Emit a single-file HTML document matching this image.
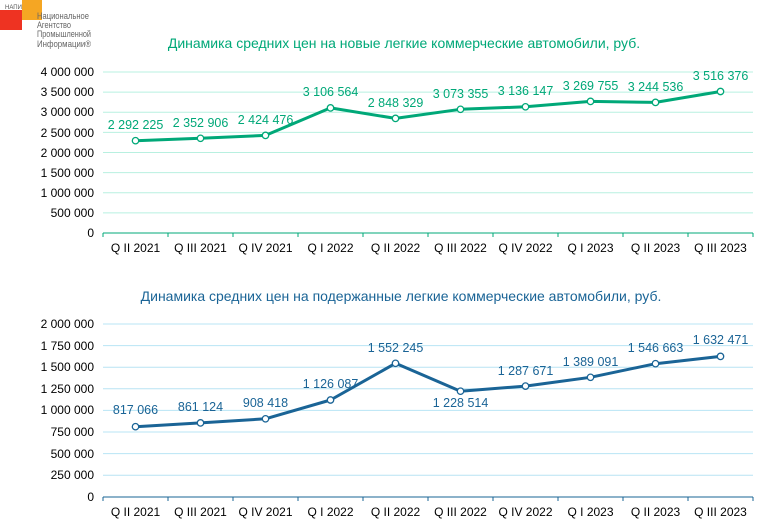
<!DOCTYPE html>
<html><head><meta charset="utf-8"><style>
html,body{margin:0;padding:0;background:#fff;}
svg{display:block;font-family:"Liberation Sans",Arial,sans-serif;}
</style></head><body>
<svg width="782" height="522" viewBox="0 0 782 522" xmlns="http://www.w3.org/2000/svg">
<!-- logo -->
<rect x="0" y="10" width="22" height="20" fill="#ee3322"/>
<rect x="22" y="0" width="20" height="20" fill="#f5a623"/>
<text x="5" y="9" font-size="6" fill="#555">НАПИ</text>
<text x="37" y="19" font-size="9" fill="#666" textLength="52" lengthAdjust="spacingAndGlyphs">Национальное</text>
<text x="37" y="28" font-size="9" fill="#666" textLength="34" lengthAdjust="spacingAndGlyphs">Агентство</text>
<text x="37" y="37" font-size="9" fill="#666" textLength="54" lengthAdjust="spacingAndGlyphs">Промышленной</text>
<text x="37" y="47" font-size="9" fill="#666" textLength="54" lengthAdjust="spacingAndGlyphs">Информации®</text>

<!-- TOP CHART -->
<text x="404" y="48" font-size="14" fill="#00a878" text-anchor="middle">Динамика средних цен на новые легкие коммерческие автомобили, руб.</text>
<g stroke="#b8f0e0" stroke-width="1">
<line x1="103" x2="753" y1="72" y2="72"/><line x1="103" x2="753" y1="92.1" y2="92.1"/><line x1="103" x2="753" y1="112.3" y2="112.3"/><line x1="103" x2="753" y1="132.4" y2="132.4"/><line x1="103" x2="753" y1="152.5" y2="152.5"/><line x1="103" x2="753" y1="172.6" y2="172.6"/><line x1="103" x2="753" y1="192.8" y2="192.8"/><line x1="103" x2="753" y1="212.9" y2="212.9"/>
</g>
<line x1="103" x2="753" y1="233" y2="233" stroke="#00a878" stroke-width="1"/>
<g stroke="#00a878"><line x1="103" x2="103" y1="233" y2="237"/><line x1="168" x2="168" y1="233" y2="237"/><line x1="233" x2="233" y1="233" y2="237"/><line x1="298" x2="298" y1="233" y2="237"/><line x1="363" x2="363" y1="233" y2="237"/><line x1="428" x2="428" y1="233" y2="237"/><line x1="493" x2="493" y1="233" y2="237"/><line x1="558" x2="558" y1="233" y2="237"/><line x1="623" x2="623" y1="233" y2="237"/><line x1="688" x2="688" y1="233" y2="237"/><line x1="753" x2="753" y1="233" y2="237"/></g>
<g font-size="12" fill="#000" text-anchor="end">
<text x="94" y="76">4 000 000</text><text x="94" y="96">3 500 000</text><text x="94" y="116">3 000 000</text><text x="94" y="137">2 500 000</text><text x="94" y="157">2 000 000</text><text x="94" y="177">1 500 000</text><text x="94" y="197">1 000 000</text><text x="94" y="217">500 000</text><text x="94" y="237">0</text>
</g>
<g font-size="12" fill="#000" text-anchor="middle">
<text x="135.5" y="252">Q II 2021</text><text x="200.5" y="252">Q III 2021</text><text x="265.5" y="252">Q IV 2021</text><text x="330.5" y="252">Q I 2022</text><text x="395.5" y="252">Q II 2022</text><text x="460.5" y="252">Q III 2022</text><text x="525.5" y="252">Q IV 2022</text><text x="590.5" y="252">Q I 2023</text><text x="655.5" y="252">Q II 2023</text><text x="720.5" y="252">Q III 2023</text>
</g>
<polyline fill="none" stroke="#00a878" stroke-width="3" stroke-linejoin="round" points="135.5,140.7 200.5,138.3 265.5,135.4 330.5,107.9 395.5,118.4 460.5,109.3 525.5,106.8 590.5,101.4 655.5,102.4 720.5,91.5"/>
<g fill="#fff" stroke="#00a878" stroke-width="1.3">
<circle cx="135.5" cy="140.7" r="3.2"/><circle cx="200.5" cy="138.3" r="3.2"/><circle cx="265.5" cy="135.4" r="3.2"/><circle cx="330.5" cy="107.9" r="3.2"/><circle cx="395.5" cy="118.4" r="3.2"/><circle cx="460.5" cy="109.3" r="3.2"/><circle cx="525.5" cy="106.8" r="3.2"/><circle cx="590.5" cy="101.4" r="3.2"/><circle cx="655.5" cy="102.4" r="3.2"/><circle cx="720.5" cy="91.5" r="3.2"/>
</g>
<g font-size="12.5" fill="#00a878" text-anchor="middle">
<text x="135.5" y="129">2 292 225</text><text x="200.5" y="127">2 352 906</text><text x="265.5" y="124">2 424 476</text><text x="330.5" y="96">3 106 564</text><text x="395.5" y="107">2 848 329</text><text x="460.5" y="98">3 073 355</text><text x="525.5" y="95">3 136 147</text><text x="590.5" y="90">3 269 755</text><text x="655.5" y="91">3 244 536</text><text x="720.5" y="80">3 516 376</text>
</g>

<!-- BOTTOM CHART -->
<text x="401" y="301" font-size="14" fill="#1a6496" text-anchor="middle">Динамика средних цен на подержанные легкие коммерческие автомобили, руб.</text>
<g stroke="#b8e4f4" stroke-width="1">
<line x1="103" x2="753" y1="324" y2="324"/><line x1="103" x2="753" y1="345.6" y2="345.6"/><line x1="103" x2="753" y1="367.2" y2="367.2"/><line x1="103" x2="753" y1="388.8" y2="388.8"/><line x1="103" x2="753" y1="410.4" y2="410.4"/><line x1="103" x2="753" y1="432" y2="432"/><line x1="103" x2="753" y1="453.6" y2="453.6"/><line x1="103" x2="753" y1="475.2" y2="475.2"/>
</g>
<line x1="103" x2="753" y1="497" y2="497" stroke="#1a6496" stroke-width="1"/>
<g stroke="#1a6496"><line x1="103" x2="103" y1="497" y2="501"/><line x1="168" x2="168" y1="497" y2="501"/><line x1="233" x2="233" y1="497" y2="501"/><line x1="298" x2="298" y1="497" y2="501"/><line x1="363" x2="363" y1="497" y2="501"/><line x1="428" x2="428" y1="497" y2="501"/><line x1="493" x2="493" y1="497" y2="501"/><line x1="558" x2="558" y1="497" y2="501"/><line x1="623" x2="623" y1="497" y2="501"/><line x1="688" x2="688" y1="497" y2="501"/><line x1="753" x2="753" y1="497" y2="501"/></g>
<g font-size="12" fill="#000" text-anchor="end">
<text x="94" y="328">2 000 000</text><text x="94" y="350">1 750 000</text><text x="94" y="371">1 500 000</text><text x="94" y="393">1 250 000</text><text x="94" y="414">1 000 000</text><text x="94" y="436">750 000</text><text x="94" y="458">500 000</text><text x="94" y="479">250 000</text><text x="94" y="501">0</text>
</g>
<g font-size="12" fill="#000" text-anchor="middle">
<text x="135.5" y="516">Q II 2021</text><text x="200.5" y="516">Q III 2021</text><text x="265.5" y="516">Q IV 2021</text><text x="330.5" y="516">Q I 2022</text><text x="395.5" y="516">Q II 2022</text><text x="460.5" y="516">Q III 2022</text><text x="525.5" y="516">Q IV 2022</text><text x="590.5" y="516">Q I 2023</text><text x="655.5" y="516">Q II 2023</text><text x="720.5" y="516">Q III 2023</text>
</g>
<polyline fill="none" stroke="#1a6496" stroke-width="3" stroke-linejoin="round" points="135.5,426.7 200.5,422.9 265.5,418.8 330.5,400 395.5,363.3 460.5,391.2 525.5,386.1 590.5,377.3 655.5,363.7 720.5,356.4"/>
<g fill="#fff" stroke="#1a6496" stroke-width="1.3">
<circle cx="135.5" cy="426.7" r="3.2"/><circle cx="200.5" cy="422.9" r="3.2"/><circle cx="265.5" cy="418.8" r="3.2"/><circle cx="330.5" cy="400" r="3.2"/><circle cx="395.5" cy="363.3" r="3.2"/><circle cx="460.5" cy="391.2" r="3.2"/><circle cx="525.5" cy="386.1" r="3.2"/><circle cx="590.5" cy="377.3" r="3.2"/><circle cx="655.5" cy="363.7" r="3.2"/><circle cx="720.5" cy="356.4" r="3.2"/>
</g>
<g font-size="12.5" fill="#1a6496" text-anchor="middle">
<text x="135.5" y="414">817 066</text><text x="200.5" y="411">861 124</text><text x="265.5" y="407">908 418</text><text x="330.5" y="388">1 126 087</text><text x="395.5" y="352">1 552 245</text><text x="460.5" y="407">1 228 514</text><text x="525.5" y="375">1 287 671</text><text x="590.5" y="366">1 389 091</text><text x="655.5" y="352">1 546 663</text><text x="720.5" y="344">1 632 471</text>
</g>
</svg>
</body></html>
